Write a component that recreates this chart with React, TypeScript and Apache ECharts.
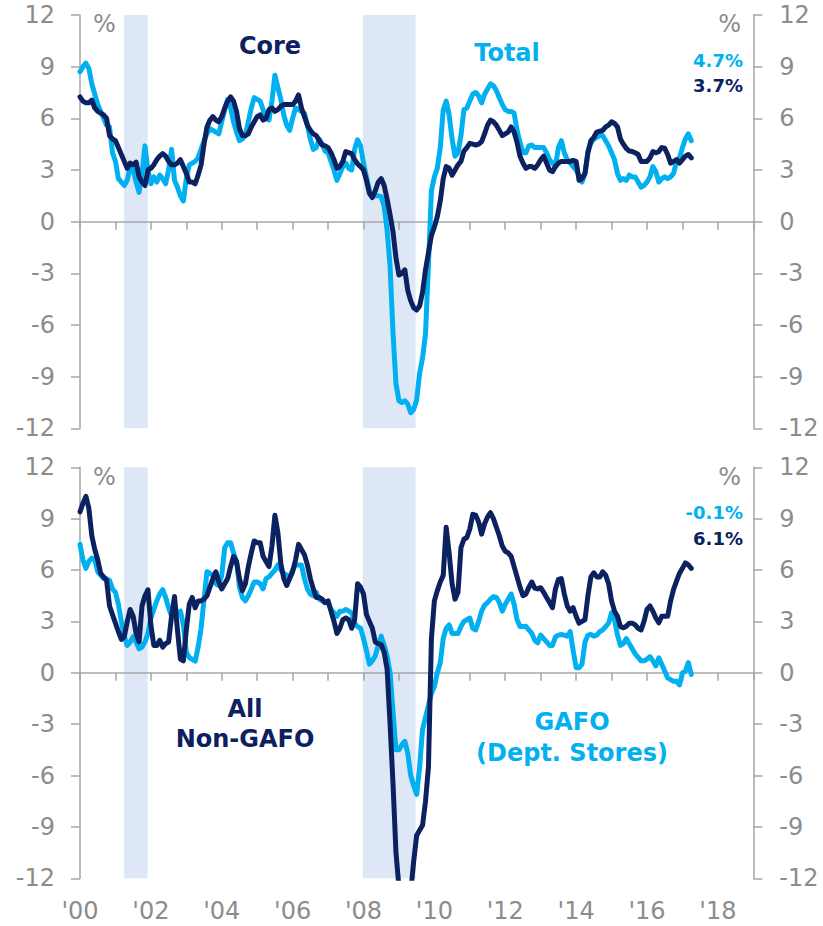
import React, { useEffect, useRef } from "react";
import * as echarts from "echarts";

const START_YEAR = 2000;

// Total retail sales, y/y % (monthly, Jan 2000 – Apr 2017)
const totalSales = [
  8.7, 9.0, 9.2, 8.9, 8.0, 7.4, 6.8, 6.4, 6.0, 5.6, 5.5, 4.0,
  3.5, 2.5, 2.3, 2.1, 2.4, 3.2, 3.0, 2.3, 1.7, 2.8, 4.4, 3.0,
  2.2, 2.6, 2.3, 2.7, 2.5, 2.2, 3.0, 4.2, 2.4, 2.0, 1.5, 1.2,
  2.5, 3.3, 3.4, 3.5, 3.7, 4.2, 4.7, 5.1, 5.4, 5.3, 5.2, 5.1,
  5.8, 6.5, 7.1, 6.6, 5.8, 5.2, 4.7, 4.8, 5.0, 5.8, 6.6, 7.2,
  7.1, 7.0, 6.5, 6.0, 5.9, 7.0, 8.5, 7.8, 7.1, 6.2, 5.6, 5.3,
  6.0, 6.6, 6.5, 6.4, 6.3, 5.6, 4.8, 4.2, 4.3, 4.8, 4.5, 4.1,
  4.0, 3.5, 3.0, 2.4, 2.8, 3.2, 3.4, 3.1, 3.0, 4.2, 4.75, 4.4,
  3.4, 2.6, 1.8, 1.5, 1.5, 1.5, 1.45, 0.9, -0.5, -2.6, -6.5, -9.4,
  -10.4, -10.5, -10.4, -10.6, -11.1, -10.9, -10.35, -8.8, -7.9, -6.5, -2.5, 1.8,
  2.6, 3.1, 4.3, 6.5, 7.0, 6.2, 4.8, 3.8, 4.0, 5.0, 6.5, 6.6,
  7.0, 7.4, 7.5, 7.3, 6.9, 7.4, 7.7, 8.0, 7.9, 7.6, 7.2, 6.8,
  6.5, 6.4, 6.4, 6.3, 5.3, 4.6, 4.0, 4.0, 4.4, 4.45, 4.3, 4.3,
  4.3, 4.3, 4.0, 3.6, 3.4, 3.2, 4.3, 4.7, 4.0, 3.6, 3.4, 3.2,
  3.0, 2.7, 2.3, 2.8, 4.1, 4.55, 4.8, 4.9, 5.0, 5.0, 4.7, 4.4,
  4.0, 3.6, 2.8, 2.4, 2.5, 2.4, 2.7, 2.6, 2.6, 2.3, 2.0, 2.1,
  2.3, 2.6, 3.2, 2.9, 2.3, 2.5, 2.6, 2.5, 2.6, 2.8, 3.5, 3.7,
  4.3, 4.8, 5.1, 4.7,
];

// Core retail sales, y/y %
const coreSales = [
  7.25, 7.0, 6.9, 6.9, 7.05, 6.6, 6.4, 6.3, 6.2, 6.0, 5.0, 4.8,
  4.7, 4.3, 3.9, 3.5, 3.1, 3.4, 3.3, 3.45, 2.6, 2.3, 2.1, 3.0,
  3.1, 3.3, 3.6, 3.8, 3.95, 3.8, 3.5, 3.3, 3.3, 3.4, 3.6, 3.2,
  2.8, 2.3, 2.3, 2.2, 2.7, 3.3, 4.5, 5.5, 5.9, 6.1, 5.9, 5.8,
  6.1, 6.6, 7.0, 7.25, 7.0, 6.4, 5.4, 5.0, 5.0, 5.1, 5.5, 5.8,
  6.1, 6.2, 5.9, 6.0, 6.5, 6.6, 6.4, 6.5, 6.7, 6.8, 6.8, 6.8,
  6.8, 7.0, 7.36, 6.6, 6.1, 5.6, 5.3, 5.1, 5.0, 4.7, 4.45, 4.4,
  4.3, 4.0, 3.6, 3.1, 3.2, 3.5, 4.07, 4.0, 3.95, 3.6, 3.35, 3.2,
  3.0, 2.4, 1.65, 1.4, 1.8, 2.3, 2.5, 2.1, 1.3, 0.4, -0.6, -2.1,
  -3.1, -3.0, -2.8, -4.0, -4.6, -5.0, -5.13, -4.9, -4.1, -2.8, -1.8, -0.8,
  -0.3, 0.3, 1.2, 2.5, 3.2, 3.1, 2.7, 3.0, 3.3, 3.5, 4.1, 4.3,
  4.55, 4.5, 4.45, 4.5, 4.65, 5.1, 5.6, 5.9, 5.8, 5.6, 5.3, 5.0,
  5.1, 5.2, 5.5, 5.2, 4.6, 3.8, 3.4, 3.1, 3.2, 3.2, 3.1, 3.3,
  3.6, 3.8, 3.4, 3.0, 2.9, 3.2, 3.4, 3.5, 3.5, 3.5, 3.5, 3.55,
  3.5, 2.4, 2.5, 2.8, 4.0, 4.7, 4.9, 5.2, 5.25, 5.3, 5.5, 5.6,
  5.8, 5.7, 5.5, 4.8, 4.5, 4.25, 4.1, 4.07, 4.0, 3.9, 3.5, 3.5,
  3.5, 3.7, 4.07, 4.0, 4.07, 4.3, 4.26, 3.9, 3.4, 3.5, 3.6, 3.4,
  3.6, 3.8, 3.9, 3.7,
];

// GAFO (Dept. Stores), y/y %
const gafoSales = [
  7.5, 6.6, 6.1, 6.5, 6.7, 6.6, 5.9, 5.7, 5.5, 5.5, 5.4, 4.9,
  4.7, 4.0, 3.0, 2.1, 1.6, 1.8, 2.1, 1.8, 1.4, 1.5, 1.8, 2.3,
  3.2, 3.7, 4.2, 4.6, 4.85, 4.4, 3.8, 3.3, 3.4, 3.5, 3.6, 2.8,
  1.2, 0.9, 0.78, 0.68, 1.5, 2.6, 4.3, 5.9, 5.8, 5.7, 5.2, 5.1,
  5.7, 7.3, 7.6, 7.6, 7.0, 6.5, 5.0, 4.4, 4.2, 4.5, 4.9, 5.3,
  5.3, 5.2, 4.9, 5.5, 5.6, 5.8, 6.0, 6.3, 6.0, 5.8, 5.7, 5.6,
  6.0, 6.3, 6.3, 6.3, 5.5, 4.9, 4.6, 4.5, 4.7, 4.3, 4.2, 4.1,
  4.1, 3.7, 3.5, 3.3, 3.6, 3.6, 3.7, 3.6, 3.5, 2.9, 2.7, 2.6,
  2.0, 1.3, 0.5, 0.7, 1.0, 1.6, 2.14, 1.6, 1.0, 0.0, -2.3, -4.5,
  -4.5, -4.2, -4.0, -4.7, -6.0, -6.6, -7.1, -5.5, -3.3, -2.6, -1.9, -1.2,
  -0.8, 0.0, 0.6, 2.0, 2.6, 2.8, 2.3, 2.3, 2.3, 2.7, 3.0, 3.1,
  3.2, 2.6, 2.5, 3.0, 3.6, 3.95, 4.1, 4.3, 4.45, 4.4, 4.1, 3.6,
  4.0, 4.3, 4.6, 4.0, 3.1, 2.7, 2.7, 2.72, 2.5, 2.3, 1.9, 1.75,
  2.2, 2.0, 1.8, 1.6, 1.6, 2.1, 2.2, 2.24, 2.2, 2.14, 2.4, 1.3,
  0.3, 0.3, 0.5, 1.8, 2.2, 2.24, 2.14, 2.2, 2.4, 2.5, 2.7, 2.9,
  3.5, 3.1, 2.2, 1.6, 1.7, 2.0, 1.7, 1.4, 1.1, 0.9, 0.7, 0.7,
  0.8, 0.95, 0.7, 0.4, 0.87, 0.5, 0.1, -0.3, -0.4, -0.5, -0.5, -0.7,
  0.0, 0.1, 0.6, -0.1,
];

// All Non-GAFO, y/y %
const nonGafoSales = [
  9.4, 9.9, 10.3, 9.6, 8.0, 7.2, 6.6, 5.8, 5.6, 5.4, 3.9, 3.4,
  2.9, 2.4, 1.95, 2.1, 3.0, 3.7, 3.3, 2.3, 1.8, 3.9, 4.5, 4.85,
  2.8, 1.6, 1.6, 1.9, 1.5, 1.7, 1.8, 3.3, 4.45, 2.5, 0.8, 0.7,
  2.5, 4.0, 4.4, 3.8, 4.2, 4.2, 4.3, 4.5, 5.0, 5.5, 5.9, 5.3,
  4.9, 5.2, 5.5, 6.2, 6.8, 6.5, 5.5, 4.8, 5.2, 6.2, 7.0, 7.7,
  7.6, 7.6, 6.8, 6.5, 6.2, 7.4, 9.2, 8.2, 6.4, 5.5, 5.1, 5.5,
  5.9, 6.6, 7.5, 7.2, 6.9, 6.3, 5.5, 4.9, 4.4, 4.4, 4.3, 4.1,
  4.2, 3.6, 3.0, 2.3, 2.6, 3.1, 3.2, 3.1, 2.6, 3.1, 5.2, 5.0,
  4.6, 3.4, 3.0, 2.6, 1.8, 1.7, 1.65, 1.2, 0.2, -3.0, -6.5, -10.5,
  -12.5, -13.5, -14.0, -13.8, -12.8, -11.0, -9.5, -9.2, -8.9, -7.5, -5.5, 2.0,
  4.2, 4.8, 5.3, 5.7, 8.5, 7.0, 5.2, 4.3, 4.7, 7.3, 7.8, 7.9,
  8.4, 9.25, 9.2, 8.8, 8.1, 8.7, 9.1, 9.35, 9.0, 8.5, 8.0, 7.4,
  7.1, 7.0, 6.8, 6.2, 5.6, 5.0, 4.5, 4.6, 5.0, 5.3, 4.95, 4.9,
  4.97, 4.7, 4.4, 4.1, 3.8, 4.9, 5.45, 5.5, 4.6, 3.9, 3.6, 3.8,
  3.3, 2.9, 3.0, 3.1, 4.5, 5.6, 5.84, 5.6, 5.6, 5.9, 5.7, 5.2,
  4.2, 3.6, 3.3, 2.7, 2.63, 2.72, 2.9, 2.9, 2.8, 2.6, 2.5, 3.0,
  3.7, 3.9, 3.6, 3.2, 2.92, 3.3, 3.3, 3.3, 4.2, 4.87, 5.35, 5.8,
  6.1, 6.42, 6.3, 6.1,
];

// Recessions (decimal years)
const recessions = [
  [2001.24, 2001.91],
  [2007.98, 2009.47],
];

const LIGHT = "#00B0F0";
const NAVY = "#0B2160";
const GRAY = "#8C8C8C";
const AXIS = "#A6A6A6";
const SHADE = "#DDE7F5";
const FONT = '"DejaVu Sans", Verdana, sans-serif';

const toPoints = (arr: number[]) =>
  arr.map((v, i) => [START_YEAR + i / 12, v]);

function App() {
  const ref = useRef<HTMLDivElement>(null);

  useEffect(() => {
    if (!ref.current) return;
    const chart = echarts.init(ref.current, null, { renderer: "svg" });

    const xBase = (gridIndex: number) => ({
      gridIndex,
      type: "value",
      min: 2000,
      max: 2019,
      interval: 1,
      z: 2,
      axisLine: { onZero: true, lineStyle: { color: AXIS, width: 1.5 } },
      axisTick: { show: true, length: 8, lineStyle: { color: AXIS, width: 1.5 } },
      axisLabel: { show: false },
      splitLine: { show: false },
    });

    const yBase = (gridIndex: number, position: string) => ({
      gridIndex,
      type: "value",
      position,
      min: -12,
      max: 12,
      interval: 3,
      axisLine: { show: true, lineStyle: { color: AXIS, width: 1.5 } },
      axisTick: { show: true, length: 9, lineStyle: { color: AXIS, width: 1.5 } },
      axisLabel: {
        color: GRAY,
        fontSize: 24,
        fontFamily: FONT,
        margin: position === "left" ? 25 : 26,
      },
      splitLine: { show: false },
    });

    const shade = (xi: number, yi: number) => ({
      type: "line",
      xAxisIndex: xi,
      yAxisIndex: yi,
      data: [],
      z: 1,
      silent: true,
      markArea: {
        silent: true,
        itemStyle: { color: SHADE },
        data: recessions.map((r) => [{ xAxis: r[0] }, { xAxis: r[1] }]),
      },
    });

    const line = (xi: number, yi: number, data: number[], color: string, z: number) => ({
      type: "line",
      xAxisIndex: xi,
      yAxisIndex: yi,
      data: toPoints(data),
      showSymbol: false,
      symbol: "none",
      clip: true,
      z,
      lineStyle: { color, width: 5, join: "round", cap: "round" },
    });

    const txt = (
      text: string,
      x: number,
      y: number,
      fill: string,
      size: number,
      bold: boolean,
      align: string
    ) => ({
      type: "text",
      x,
      y,
      z: 10,
      style: {
        text,
        fill,
        font: `${bold ? "bold " : ""}${size}px ${FONT}`,
        textAlign: align,
        textVerticalAlign: "middle",
        verticalAlign: "middle",
      },
    });

    chart.setOption({
      animation: false,
      grid: [
        { left: 80, top: 15, width: 673.3, height: 413.3 },
        { left: 80, top: 467.3, width: 673.3, height: 411 },
      ],
      xAxis: [
        xBase(0),
        xBase(1),
        {
          gridIndex: 1,
          type: "value",
          min: 2000,
          max: 2019,
          interval: 2,
          position: "bottom",
          axisLine: { show: false, onZero: false },
          axisTick: { show: false },
          splitLine: { show: false },
          axisLabel: {
            color: GRAY,
            fontSize: 24,
            fontFamily: FONT,
            margin: 21,
            formatter: (v: number) =>
              v % 2 === 0 ? "'" + String(v).slice(2) : "",
          },
        },
      ],
      yAxis: [
        yBase(0, "left"),
        yBase(0, "right"),
        yBase(1, "left"),
        yBase(1, "right"),
      ],
      series: [
        shade(0, 0),
        line(0, 0, totalSales, LIGHT, 3),
        line(0, 0, coreSales, NAVY, 4),
        shade(1, 2),
        line(1, 2, gafoSales, LIGHT, 3),
        line(1, 2, nonGafoSales, NAVY, 4),
      ],
      graphic: [
        txt("%", 93, 24, GRAY, 24, false, "left"),
        txt("%", 741, 24, GRAY, 24, false, "right"),
        txt("Core", 270, 46, NAVY, 24, true, "center"),
        txt("Total", 507, 53, LIGHT, 24, true, "center"),
        txt("4.7%", 743, 60, LIGHT, 18, true, "right"),
        txt("3.7%", 743, 85, NAVY, 18, true, "right"),
        txt("%", 93, 477, GRAY, 24, false, "left"),
        txt("%", 741, 477, GRAY, 24, false, "right"),
        txt("All", 245, 709, NAVY, 24, true, "center"),
        txt("Non-GAFO", 245, 739, NAVY, 24, true, "center"),
        txt("GAFO", 572, 722, LIGHT, 24, true, "center"),
        txt("(Dept. Stores)", 572, 753, LIGHT, 24, true, "center"),
        txt("-0.1%", 743, 512, LIGHT, 18, true, "right"),
        txt("6.1%", 743, 538, NAVY, 18, true, "right"),
      ],
    });

    return () => chart.dispose();
  }, []);

  return (
    <div
      ref={ref}
      style={{ position: "fixed", left: 0, top: 0, width: 823, height: 926, background: "#fff" }}
    />
  );
}

export default App;
